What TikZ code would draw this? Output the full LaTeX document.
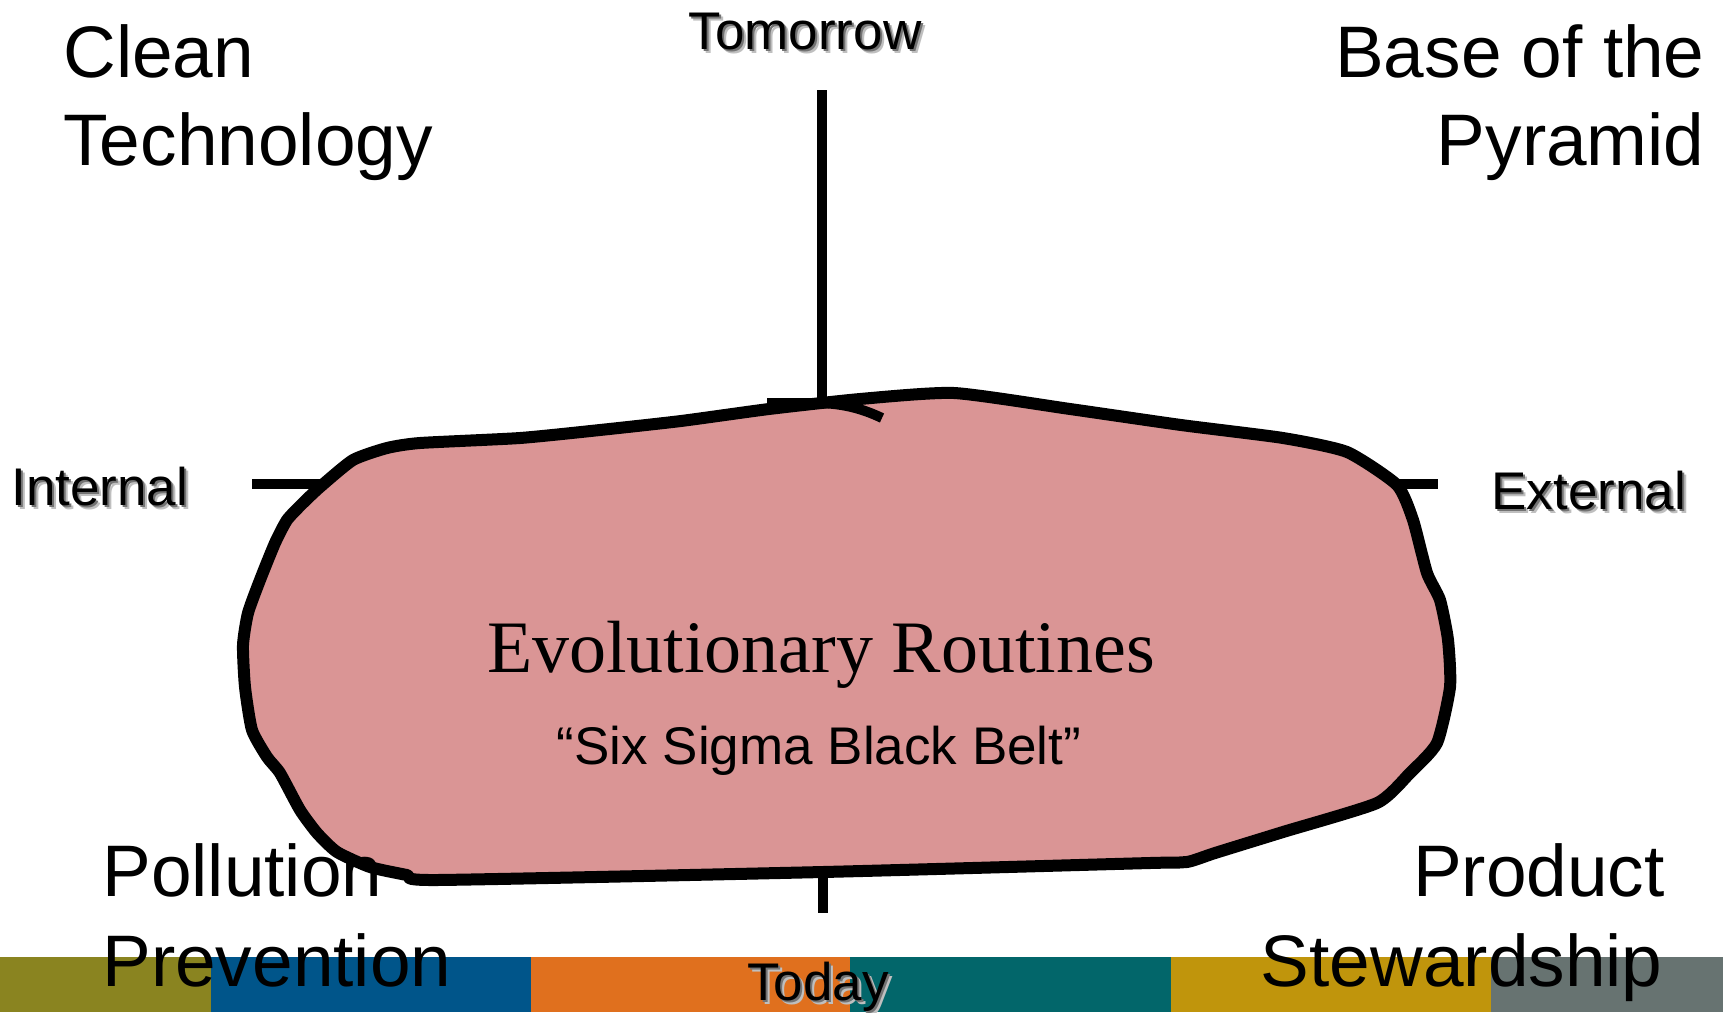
\documentclass[tikz,border=0pt]{standalone}
\usepackage{fontspec}
\setmainfont{Liberation Sans}
\newfontfamily\timesfont{Liberation Serif}
\definecolor{blobfill}{HTML}{DA9595}
\definecolor{barA}{HTML}{8A8420}
\definecolor{barB}{HTML}{00558A}
\definecolor{barC}{HTML}{E0701E}
\definecolor{barD}{HTML}{02666A}
\definecolor{barE}{HTML}{C0950C}
\definecolor{barF}{HTML}{677371}
\newcommand\shadtext[1]{\makebox[0pt][l]{\hspace{2pt}\raisebox{-2pt}{\textcolor{black!25}{#1}}}\makebox[0pt][l]{\hspace{1pt}\raisebox{-1pt}{\textcolor{black!55}{#1}}}#1}
\begin{document}
\begin{tikzpicture}[x=0.5pt,y=-0.5pt,
  txt/.style={inner sep=0pt,font=\fontsize{36.5pt}{44pt}\selectfont},
  lbl/.style={inner sep=0pt,font=\fontsize{26.5pt}{30pt}\selectfont},
  axisline/.style={line width=5pt},
  blobline/.style={line width=6pt,draw=black,fill=blobfill,line join=round}]
\useasboundingbox (0,0) rectangle (1723,1012);
\fill[white] (0,0) rectangle (1723,1012);
% colour bar
\fill[barA] (0,957) rectangle (211,1012);
\fill[barB] (211,957) rectangle (531,1012);
\fill[barC] (531,957) rectangle (850,1012);
\fill[barD] (850,957) rectangle (1171,1012);
\fill[barE] (1171,957) rectangle (1491,1012);
\fill[barF] (1491,957) rectangle (1723,1012);
% axes
\coordinate (vt) at (822,90);
\coordinate (vb) at (822,408);
\coordinate (bt) at (823,878);
\coordinate (bb) at (823,913);
\coordinate (hl) at (252,484);
\coordinate (hlr) at (330,484);
\coordinate (hr) at (1438,484);
\coordinate (hrl) at (1390,484);
\draw[axisline] (vt) -- (vb);
\draw[axisline] (bt) -- (bb);
\draw[axisline] (hl) -- (hlr);
\draw[axisline] (hrl) -- (hr);
% blob
\draw[blobline] plot[smooth cycle,tension=0.35] coordinates {
(769,409) (860,399) (954,393) (1070,409) (1181,425) (1283,438) (1347,452)
(1397,485) (1413,520) (1427,573) (1440,600) (1448,640) (1450,687) (1437,743)
(1410,773) (1377,803) (1283,832) (1215,853) (1187,862) (1150,863) (823,872)
(437,880) (407,875)
(370,867) (337,852) (317,833) (300,810) (280,773) (267,757) (252,730) (245,687)
(243,645) (248,613) (260,580) (275,543) (287,520) (303,503) (320,487) (353,460)
(387,448) (420,443) (520,438) (600,430) (681,421)};
% tick on top
\coordinate (ta) at (767,403);
\coordinate (tb) at (815,403);
\coordinate (tc) at (882,418);
\draw[line width=5pt] (ta) -- (tb) .. controls (845,403) and (865,410) .. (tc);
% corner texts
\node[txt,anchor=base west] (clean) at (63,77) {Clean};
\node[txt,anchor=base west] (tech) at (63,165) {Technology};
\node[txt,anchor=base east] (base) at (1705,77) {Base of the};
\node[txt,anchor=base east] (pyr) at (1705,165) {Pyramid};
\node[txt,anchor=base west] (poll) at (102,896) {Pollution};
\node[txt,anchor=base west] (prev) at (102,986) {Prevention};
\node[txt,anchor=base east] (prod) at (1665,896) {Product};
\node[txt,anchor=base east] (stew) at (1663,986) {Stewardship};
% axis labels with shadow
\node[lbl,anchor=base] (tom) at (805,49) {\shadtext{Tomorrow}};
\node[lbl,anchor=base west] (int) at (11,505) {\shadtext{Internal}};
\node[lbl,anchor=base west] (ext) at (1491,509) {\shadtext{External}};
\node[lbl,anchor=base] (tod) at (818,1000) {\shadtext{Today}};
% centre texts
\node[inner sep=0pt,anchor=base,font=\timesfont\fontsize{37pt}{40pt}\selectfont] (evo) at (821,672) {Evolutionary Routines};
\node[lbl,anchor=base] (six) at (819,764) {“Six Sigma Black Belt”};
\end{tikzpicture}
\end{document}
